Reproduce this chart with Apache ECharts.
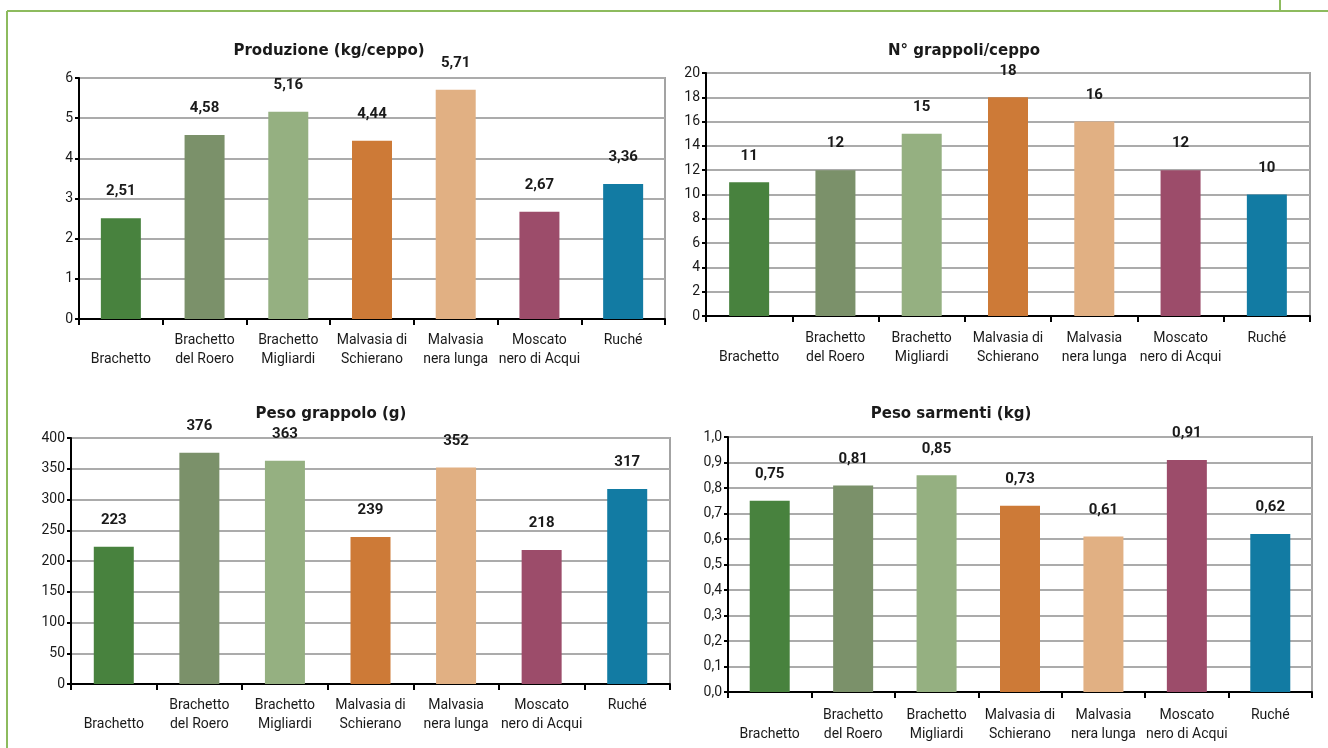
<!DOCTYPE html>
<html>
<head>
<meta charset="utf-8">
<script src="https://cdn.jsdelivr.net/npm/echarts@6/dist/echarts.min.js"></script>
<style>
  html, body { margin: 0; padding: 0; background: #ffffff; }
  #chart { width: 1328px; height: 748px; }
</style>
</head>
<body>
<div id="chart"></div>
<script>
// Vine varieties (axis labels, wrapped as printed)
const categories = [
  '\nBrachetto',
  'Brachetto\ndel Roero',
  'Brachetto\nMigliardi',
  'Malvasia di\nSchierano',
  'Malvasia\nnera lunga',
  'Moscato\nnero di Acqui',
  'Ruché'
];

// One colour per variety
const varietyColors = ['#48823e', '#7b916a', '#95b081', '#cd7a37', '#e1b083', '#9c4c6a', '#127ba3'];

// Measured values per variety
const produzione = [2.51, 4.58, 5.16, 4.44, 5.71, 2.67, 3.36];      // kg/ceppo
const grappoliCeppo = [11, 12, 15, 18, 16, 12, 10];                // n° grappoli/ceppo
const pesoGrappolo = [223, 376, 363, 239, 352, 218, 317];          // g
const pesoSarmenti = [0.75, 0.81, 0.85, 0.73, 0.61, 0.91, 0.62];   // kg

const titles = ['Produzione (kg/ceppo)', 'N° grappoli/ceppo', 'Peso grappolo (g)', 'Peso sarmenti (kg)'];

const FONT = 'Roboto, "DejaVu Sans", sans-serif';
const TITLE_FONT = '"DejaVu Sans", Roboto, sans-serif';
const comma = (v, d) => Number(v).toFixed(d).replace('.', ',');

const panels = [
  { data: produzione,    max: 6,   step: 1,   yDec: 0, lDec: 2, margin: 12, grid: { left: 79,  top: 78,  width: 586, height: 241 }, title: [324, 39] },
  { data: grappoliCeppo, max: 20,  step: 2,   yDec: 0, lDec: 0, margin: 13, grid: { left: 706, top: 73,  width: 604, height: 243 }, title: [959, 39] },
  { data: pesoGrappolo,  max: 400, step: 50,  yDec: 0, lDec: 0, margin: 12, grid: { left: 71,  top: 438, width: 599, height: 246 }, title: [326, 402] },
  { data: pesoSarmenti,  max: 1,   step: 0.1, yDec: 1, lDec: 2, margin: 14, grid: { left: 728, top: 437, width: 584, height: 255 }, title: [946, 402] }
];

const option = {
  backgroundColor: '#ffffff',
  animation: false,
  title: panels.map((p, i) => ({
    text: titles[i],
    left: p.title[0],
    top: p.title[1],
    textAlign: 'center',
    textStyle: { fontFamily: TITLE_FONT, fontSize: 15, fontWeight: 'bold', color: '#1a1a1a' }
  })),
  grid: panels.map(p => Object.assign({
    show: true,
    backgroundColor: '#ffffff',
    borderColor: '#a3a3a3',
    borderWidth: 2
  }, p.grid)),
  xAxis: panels.map((p, i) => ({
    type: 'category',
    gridIndex: i,
    data: categories,
    boundaryGap: true,
    axisLine: { show: true, lineStyle: { color: '#000000', width: 2 } },
    axisTick: { show: true, length: 6, lineStyle: { color: '#000000', width: 2 } },
    axisLabel: {
      interval: 0,
      margin: p.margin,
      fontFamily: FONT,
      fontSize: 14,
      lineHeight: 19,
      color: '#1a1a1a'
    },
    splitLine: { show: false }
  })),
  yAxis: panels.map((p, i) => ({
    type: 'value',
    gridIndex: i,
    min: 0,
    max: p.max,
    interval: p.step,
    axisLine: { show: true, lineStyle: { color: '#000000', width: 2 } },
    axisTick: { show: true, length: 4, lineStyle: { color: '#000000', width: 2 } },
    axisLabel: {
      margin: 6,
      fontFamily: FONT,
      fontSize: 14,
      color: '#1a1a1a',
      formatter: v => comma(v, p.yDec)
    },
    splitLine: { show: true, lineStyle: { color: '#ababab', width: 2 } }
  })),
  series: panels.map((p, i) => ({
    type: 'bar',
    xAxisIndex: i,
    yAxisIndex: i,
    barWidth: 40,
    data: p.data.map((v, k) => ({ value: v, itemStyle: { color: varietyColors[k] } })),
    label: {
      show: true,
      position: 'top',
      distance: 19,
      fontFamily: FONT,
      fontSize: 15,
      fontWeight: 'bold',
      color: '#1a1a1a',
      formatter: prm => comma(prm.value, p.lDec)
    }
  })),
  graphic: [
    { type: 'line', shape: { x1: 7, y1: 11, x2: 7, y2: 748 }, style: { stroke: '#8dbb5e', lineWidth: 2 } },
    { type: 'line', shape: { x1: 7, y1: 11, x2: 1328, y2: 11 }, style: { stroke: '#8dbb5e', lineWidth: 2 } },
    { type: 'line', shape: { x1: 1280, y1: 0, x2: 1280, y2: 11 }, style: { stroke: '#8dbb5e', lineWidth: 2 } }
  ]
};

const chart = echarts.init(document.getElementById('chart'), null, { renderer: 'canvas' });
chart.setOption(option);
</script>
</body>
</html>
